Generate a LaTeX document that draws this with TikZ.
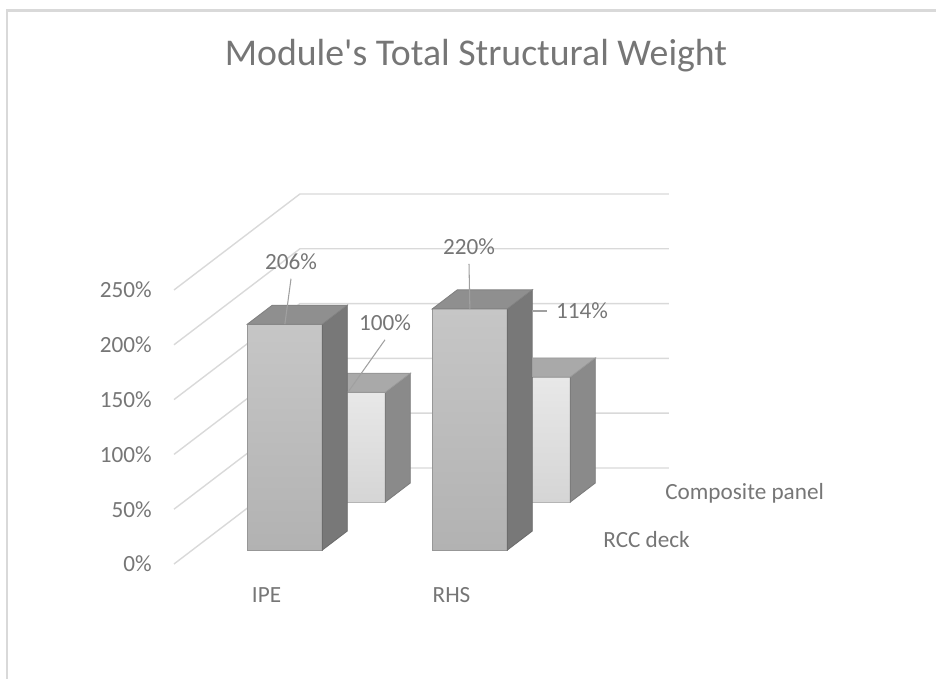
\documentclass[tikz,border=0pt]{standalone}
\usepackage{fontspec}
\setmainfont{Carlito}
\newfontfamily\plainquote{Carlito}

\definecolor{gridgray}{HTML}{D9D9D9}
\definecolor{textgray}{HTML}{767676}
\definecolor{leadgray}{HTML}{A0A0A0}
% RCC deck columns
\definecolor{rcctop}{HTML}{C6C6C6}
\definecolor{rccbot}{HTML}{B2B2B2}
\definecolor{rccside}{HTML}{787878}
\definecolor{rcclid}{HTML}{8F8F8F}
% composite panel columns
\definecolor{cmptop}{HTML}{E8E8E8}
\definecolor{cmpbot}{HTML}{D5D5D5}
\definecolor{cmpside}{HTML}{8A8A8A}
\definecolor{cmplid}{HTML}{A9A9A9}

% x0, x1, z0, z1, value, front top, front bottom, side, lid
\newcommand{\drawcolumn}[9]{%
	\shadedraw[top color=#6,bottom color=#7,draw=#7!85!black,line width=0.5pt] (#1,0,#3) -- (#2,0,#3) -- (#2,#5,#3) -- (#1,#5,#3) -- cycle;
	\filldraw[fill=#8,draw=#8!90!black,line width=0.5pt] (#2,0,#3) -- (#2,0,#4) -- (#2,#5,#4) -- (#2,#5,#3) -- cycle;
	\filldraw[fill=#9,draw=#9!90!black,line width=0.5pt] (#1,#5,#3) -- (#2,#5,#3) -- (#2,#5,#4) -- (#1,#5,#4) -- cycle;
}

\begin{document}
\begin{tikzpicture}[x=0.02cm,y=0.02cm,
	txt/.style={text=textgray,inner sep=0pt,font=\fontsize{13.2}{15}\selectfont},
	datalabel/.style={txt,outer sep=5pt},
	leader/.style={draw=leadgray,line width=0.6pt}]
	\useasboundingbox (0,0) rectangle (936,679);
	% chart frame
	\draw[gridgray,line width=1.2pt] (7,0) -- (7,668.5) -- (936,668.5);
	\node[text=textgray,font=\plainquote\fontsize{21.5}{25}\selectfont] (title) at (476,623) {Module's Total Structural Weight};

	\begin{scope}[shift={(174,115)},y={(0,0.02192cm)},z={(0.02625cm,0.02cm)}]
		% walls
		\foreach \v in {0,50,...,250}
		{
			\draw[gridgray,line width=0.8pt] (0,\v,0) -- (0,\v,96) -- (369,\v,96);
			\node[txt,anchor=east] (tick\v) at (-22,\v,0) {\v\%};
		}
		% composite panel row
		\drawcolumn{55}{130}{62}{81}{100}{cmptop}{cmpbot}{cmpside}{cmplid}
		\drawcolumn{240}{315}{62}{81}{114}{cmptop}{cmpbot}{cmpside}{cmplid}
		% RCC deck row
		\drawcolumn{55}{130}{14}{33}{206}{rcctop}{rccbot}{rccside}{rcclid}
		\drawcolumn{240}{315}{14}{33}{220}{rcctop}{rccbot}{rccside}{rcclid}
		\coordinate (ipeCmp) at (92.5,100,62);
		\coordinate (rhsCmp) at (277.5,114,62);
		\coordinate (ipeRcc) at (92.5,206,14);
		\coordinate (rhsRcc) at (277.5,220,14);
		\node[txt] (ipe) at (92.5,-28,0) {IPE};
		\node[txt] (rhs) at (277.5,-28,0) {RHS};
	\end{scope}

	\node[txt,anchor=west] (cmp) at (665,186) {Composite panel};
	\node[txt,anchor=west] (rcc) at (603,139) {RCC deck};

	\node[datalabel] (v206) at (291,417) {206\%};
	\node[datalabel] (v220) at (469,432) {220\%};
	\node[datalabel] (v100) at (385,356) {100\%};
	\node[datalabel] (v114) at (582,368) {114\%};
	\draw[leader] (v206.south) -- (ipeRcc);
	\draw[leader] (v220.south) -- (rhsRcc);
	\draw[leader] (v100.south) -- (ipeCmp);
	\draw[leader] (rhsCmp) |- (v114.west);
\end{tikzpicture}
\end{document}
